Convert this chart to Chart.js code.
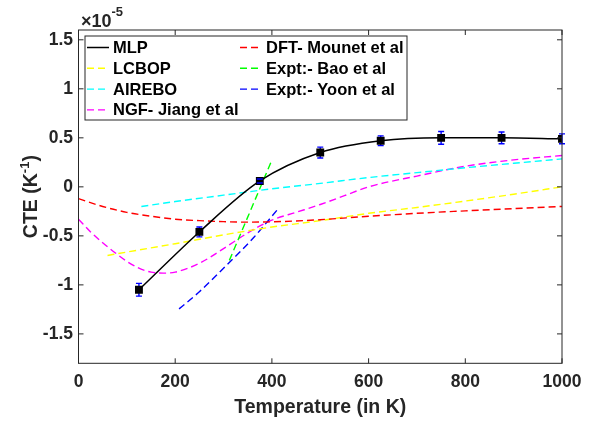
<!DOCTYPE html>
<html>
<head>
<meta charset="utf-8">
<script src="https://cdn.jsdelivr.net/npm/chart.js@4.4.0/dist/chart.umd.min.js"></script>
<style>
body{margin:0;background:#fff;}
#wrap{width:595px;height:423px;}
</style>
</head>
<body>
<div id="wrap"><canvas id="cte" width="595" height="423"></canvas></div>
<script>
// values in units of 1e-5 per K
const mlpT = [125, 250, 375, 500, 625, 750, 875, 1000];
const mlpCte = [-1.05, -0.46, 0.06, 0.35, 0.47, 0.50, 0.50, 0.49];
const mlpErr = [0.065, 0.05, 0.02, 0.055, 0.05, 0.065, 0.06, 0.05];

const dftT = [0, 50, 100, 150, 200, 250, 300, 350, 400, 450, 500, 600, 700, 800, 900, 1000];
const dftCte = [-0.12, -0.2, -0.26, -0.3, -0.33, -0.345, -0.355, -0.36, -0.357, -0.348, -0.335, -0.3, -0.27, -0.245, -0.222, -0.2];

const lcbopT = [60, 100, 200, 300, 400, 500, 600, 700, 800, 900, 1000];
const lcbopCte = [-0.70, -0.665, -0.58, -0.49, -0.41, -0.345, -0.27, -0.21, -0.145, -0.075, 0.0];

const baoT = [312, 355, 398];
const baoCte = [-0.75, -0.25, 0.25];

const airT = [130, 200, 300, 400, 500, 600, 700, 800, 900, 1000];
const airCte = [-0.2, -0.15, -0.085, -0.02, 0.035, 0.095, 0.145, 0.195, 0.24, 0.285];

const yoonT = [208, 250, 306, 360, 411];
const yoonCte = [-1.245, -1.07, -0.80, -0.53, -0.235];

const ngfT = [0, 25, 50, 75, 100, 125, 150, 175, 200, 250, 300, 350, 400, 450, 500, 550, 600, 700, 800, 900, 1000];
const ngfCte = [-0.33, -0.46, -0.57, -0.67, -0.76, -0.83, -0.87, -0.88, -0.87, -0.78, -0.63, -0.47, -0.34, -0.26, -0.18, -0.09, 0.0, 0.11, 0.21, 0.275, 0.32];

const xTicks = [0, 200, 400, 600, 800, 1000];
const yTicks = [-1.5, -1, -0.5, 0, 0.5, 1, 1.5];

const FONT = "'Liberation Sans', Arial, Helvetica, sans-serif";
const INK = "#262626";

function pts(xs, ys) {
  return xs.map((x, i) => ({x: x, y: ys[i]}));
}

function dashed(label, xs, ys, color) {
  return {
    label: label,
    data: pts(xs, ys),
    borderColor: color,
    backgroundColor: color,
    borderWidth: 1.4,
    borderDash: [7, 4],
    pointRadius: 0,
    cubicInterpolationMode: "monotone",
    fill: false
  };
}

const datasets = [
  {
    label: "MLP",
    data: pts(mlpT, mlpCte),
    borderColor: "#000000",
    backgroundColor: "#000000",
    borderWidth: 1.5,
    pointStyle: "rect",
    pointRadius: 4.5,
    pointBorderColor: "#000000",
    pointBackgroundColor: "#000000",
    cubicInterpolationMode: "monotone",
    fill: false
  },
  dashed("DFT- Mounet et al", dftT, dftCte, "#ff0000"),
  dashed("LCBOP", lcbopT, lcbopCte, "#ffff00"),
  dashed("Expt:- Bao et al", baoT, baoCte, "#00ff00"),
  dashed("AIREBO", airT, airCte, "#00ffff"),
  dashed("Expt:- Yoon et al", yoonT, yoonCte, "#0000ff"),
  dashed("NGF- Jiang et al", ngfT, ngfCte, "#ff00ff")
];

// error bars on the MLP points: stem under the markers, caps on top
function errorPixels(chart) {
  const {x, y} = chart.scales;
  return mlpT.map((t, i) => ({
    px: x.getPixelForValue(t),
    top: y.getPixelForValue(mlpCte[i] + mlpErr[i]),
    bot: y.getPixelForValue(mlpCte[i] - mlpErr[i])
  }));
}

const errorBars = {
  id: "errorBars",
  beforeDatasetsDraw(chart) {
    const ctx = chart.ctx;
    ctx.save();
    ctx.strokeStyle = "#0000ff";
    ctx.lineWidth = 1.4;
    ctx.beginPath();
    errorPixels(chart).forEach(e => {
      ctx.moveTo(e.px, e.top); ctx.lineTo(e.px, e.bot);
    });
    ctx.stroke();
    ctx.restore();
  },
  afterDatasetsDraw(chart) {
    const ctx = chart.ctx;
    ctx.save();
    ctx.strokeStyle = "#0000ff";
    ctx.lineWidth = 1.4;
    ctx.beginPath();
    errorPixels(chart).forEach(e => {
      ctx.moveTo(e.px - 3, e.top); ctx.lineTo(e.px + 3, e.top);
      ctx.moveTo(e.px - 3, e.bot); ctx.lineTo(e.px + 3, e.bot);
    });
    ctx.stroke();
    ctx.restore();
  }
};

// box, inward ticks, legend, y title and exponent
const decorations = {
  id: "decorations",
  afterDraw(chart) {
    const {ctx, chartArea: a, scales: {x, y}} = chart;
    ctx.save();
    ctx.strokeStyle = INK;
    ctx.lineWidth = 1;
    ctx.strokeRect(a.left, a.top, a.right - a.left, a.bottom - a.top);
    ctx.beginPath();
    xTicks.forEach(v => {
      const px = x.getPixelForValue(v);
      ctx.moveTo(px, a.bottom); ctx.lineTo(px, a.bottom - 5);
      ctx.moveTo(px, a.top); ctx.lineTo(px, a.top + 5);
    });
    yTicks.forEach(v => {
      const py = y.getPixelForValue(v);
      ctx.moveTo(a.left, py); ctx.lineTo(a.left + 5, py);
      ctx.moveTo(a.right, py); ctx.lineTo(a.right - 5, py);
    });
    ctx.stroke();

    // legend
    const lx = 85, ly = 36, lw = 322, lh = 84;
    ctx.fillStyle = "#ffffff";
    ctx.fillRect(lx, ly, lw, lh);
    ctx.strokeStyle = INK;
    ctx.strokeRect(lx, ly, lw, lh);
    const layout = [
      ["MLP", 0, 0], ["LCBOP", 0, 1], ["AIREBO", 0, 2], ["NGF- Jiang et al", 0, 3],
      ["DFT- Mounet et al", 1, 0], ["Expt:- Bao et al", 1, 1], ["Expt:- Yoon et al", 1, 2]
    ];
    ctx.font = "bold 16.5px " + FONT;
    ctx.textBaseline = "middle";
    ctx.textAlign = "left";
    layout.forEach(([label, col, row]) => {
      const ds = chart.data.datasets.find(d => d.label === label);
      const sx = col === 0 ? 87 : 240;
      const sy = 47.5 + row * 20.8;
      ctx.strokeStyle = ds.borderColor;
      ctx.lineWidth = ds.borderWidth;
      ctx.setLineDash(ds.borderDash || []);
      ctx.beginPath();
      ctx.moveTo(sx, sy); ctx.lineTo(sx + 22, sy);
      ctx.stroke();
      ctx.setLineDash([]);
      ctx.fillStyle = "#000000";
      ctx.fillText(label, sx + 26, sy + 1);
    });

    // y title with superscript
    ctx.fillStyle = INK;
    ctx.translate(30, (a.top + a.bottom) / 2);
    ctx.rotate(-Math.PI / 2);
    const p1 = "CTE (K", p3 = ")";
    ctx.font = "bold 13px " + FONT;
    const w2 = ctx.measureText("-1").width;
    ctx.font = "bold 19.5px " + FONT;
    const w1 = ctx.measureText(p1).width, w3 = ctx.measureText(p3).width;
    const sx = -(w1 + w2 + w3) / 2;
    ctx.textAlign = "left";
    ctx.textBaseline = "alphabetic";
    ctx.fillText(p1, sx, 7);
    ctx.font = "bold 13px " + FONT;
    ctx.fillText("-1", sx + w1, -1);
    ctx.font = "bold 19.5px " + FONT;
    ctx.fillText(p3, sx + w1 + w2, 7);
    ctx.setTransform(1, 0, 0, 1, 0, 0);

    // exponent label
    ctx.font = "bold 18px " + FONT;
    ctx.fillStyle = INK;
    ctx.fillText("\u00d710", 81, 27);
    const we = ctx.measureText("\u00d710").width;
    ctx.font = "bold 13px " + FONT;
    ctx.fillText("-5", 81 + we, 16);
    ctx.restore();
  }
};

new Chart(document.getElementById("cte"), {
  type: "line",
  data: {datasets: datasets},
  options: {
    responsive: false,
    animation: false,
    layout: {padding: {top: 30, right: 33, left: 0, bottom: 0}},
    plugins: {legend: {display: false}, tooltip: {enabled: false}},
    scales: {
      x: {
        type: "linear",
        min: 0,
        max: 1000,
        afterFit: s => { s.height = 59.7; },
        afterBuildTicks: s => { s.ticks = xTicks.map(v => ({value: v})); },
        grid: {display: false, drawTicks: false},
        border: {display: false},
        ticks: {
          color: INK,
          padding: 8,
          maxRotation: 0,
          font: {family: FONT, size: 17.5, weight: "bold"},
          callback: v => String(v)
        },
        title: {
          display: true,
          text: "Temperature (in K)",
          color: INK,
          padding: {top: 0, bottom: 4},
          font: {family: FONT, size: 19.5, weight: "bold"}
        }
      },
      y: {
        type: "linear",
        min: -1.8,
        max: 1.6,
        afterFit: s => { s.width = 78.5; },
        afterBuildTicks: s => { s.ticks = yTicks.map(v => ({value: v})); },
        grid: {display: false, drawTicks: false},
        border: {display: false},
        ticks: {
          color: INK,
          padding: 5.5,
          font: {family: FONT, size: 17.5, weight: "bold"},
          callback: v => String(v)
        }
      }
    }
  },
  plugins: [errorBars, decorations]
});
</script>
</body>
</html>
